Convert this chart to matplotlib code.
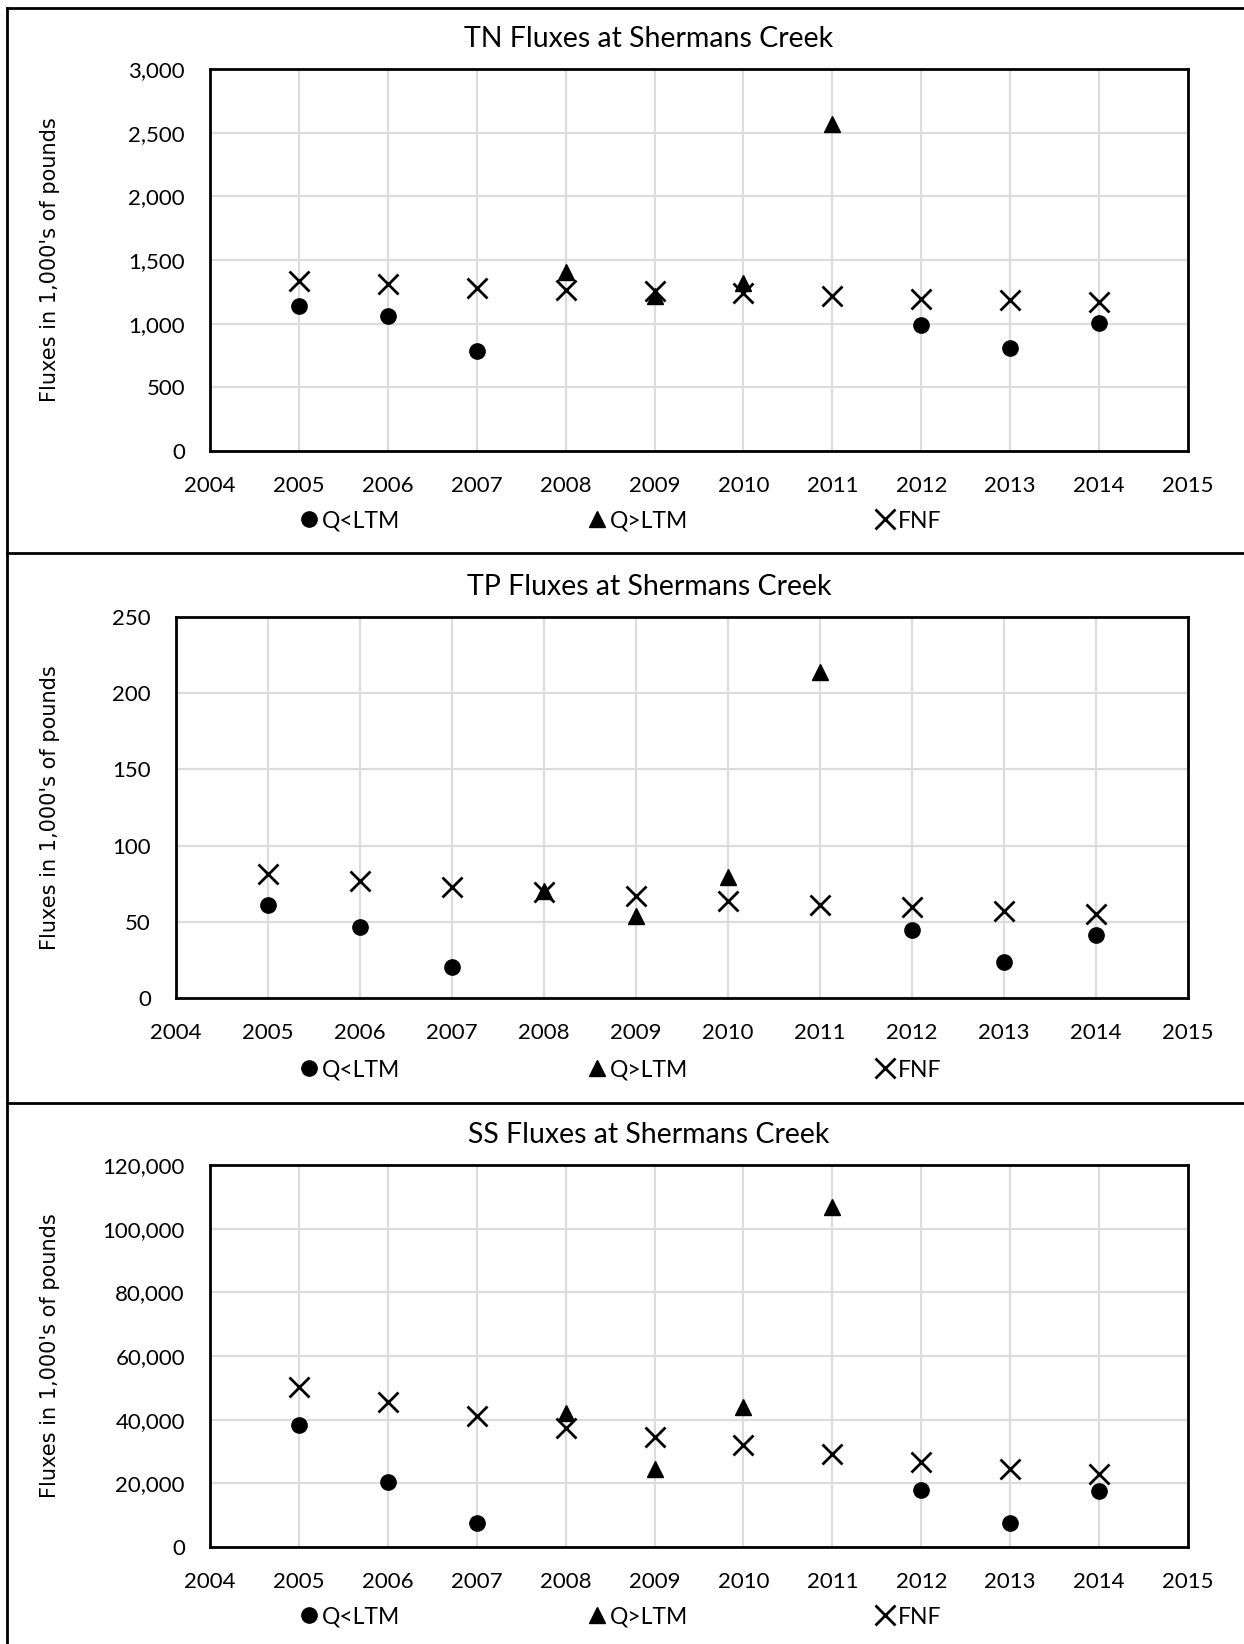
import matplotlib
matplotlib.use("Agg")
import matplotlib.pyplot as plt
from matplotlib.lines import Line2D
from matplotlib.ticker import FuncFormatter

plt.rcParams['font.family'] = ['Lato', 'DejaVu Sans']

# Data (1,000's of pounds)
years = [2005, 2006, 2007, 2008, 2009, 2010, 2011, 2012, 2013, 2014]

tn_low_years = [2005, 2006, 2007, 2012, 2013, 2014]
tn_low = [1141, 1057, 782, 992, 805, 1006]
tn_high_years = [2008, 2009, 2010, 2011]
tn_high = [1407, 1217, 1323, 2571]
tn_fnf = [1337, 1309, 1281, 1262, 1253, 1239, 1217, 1197, 1183, 1169]

tp_low_years = [2005, 2006, 2007, 2012, 2013, 2014]
tp_low = [61.3, 46.3, 20.5, 44.9, 23.7, 41.3]
tp_high_years = [2008, 2009, 2010, 2011]
tp_high = [70.5, 53.8, 79.5, 213.6]
tp_fnf = [81.2, 76.5, 73.0, 69.7, 66.7, 63.4, 61.3, 59.7, 57.3, 55.4]

ss_low_years = [2005, 2006, 2007, 2012, 2013, 2014]
ss_low = [38400, 20400, 7600, 17900, 7600, 17700]
ss_high_years = [2008, 2009, 2010, 2011]
ss_high = [42200, 24400, 43900, 106800]
ss_fnf = [50300, 45500, 41100, 37300, 34600, 31900, 29100, 26700, 24500, 22800]

W, H = 1244, 1644
fig = plt.figure(figsize=(W / 100, H / 100), dpi=100)


def box(left, top, right, bottom):
    return [left / W, 1 - bottom / H, (right - left) / W, (bottom - top) / H]


panels = [
    dict(title='TN Fluxes at Shermans Creek', pos=box(210, 69, 1188, 451),
         lo=(tn_low_years, tn_low), hi=(tn_high_years, tn_high), fnf=tn_fnf,
         ylim=3000, step=500, top=8, title_y=39, leg_y=521),
    dict(title='TP Fluxes at Shermans Creek', pos=box(176, 617, 1188, 998),
         lo=(tp_low_years, tp_low), hi=(tp_high_years, tp_high), fnf=tp_fnf,
         ylim=250, step=50, top=553, title_y=587, leg_y=1070),
    dict(title='SS Fluxes at Shermans Creek', pos=box(210, 1165, 1188, 1547),
         lo=(ss_low_years, ss_low), hi=(ss_high_years, ss_high), fnf=ss_fnf,
         ylim=120000, step=20000, top=1103, title_y=1135, leg_y=1617),
]

for p in panels:
    ax = fig.add_axes(p['pos'])
    ax.plot(p['lo'][0], p['lo'][1], 'o', color='black', markersize=11, label='Q<LTM')
    ax.plot(p['hi'][0], p['hi'][1], '^', color='black', markersize=12, label='Q>LTM')
    ax.plot(years, p['fnf'], 'x', color='black', markersize=15, mew=2, label='FNF')

    ax.set_xlim(2004, 2015)
    ax.set_xticks(range(2004, 2016))
    ax.set_ylim(0, p['ylim'])
    ax.set_yticks(range(0, p['ylim'] + 1, p['step']))
    ax.yaxis.set_major_formatter(FuncFormatter(lambda v, _: f'{int(v):,}'))
    ax.grid(True, color='#dcdcdc', linewidth=1.6)
    ax.set_axisbelow(True)
    ax.tick_params(length=0, labelsize=16)
    ax.tick_params(axis='y', pad=18)
    ax.tick_params(axis='x', pad=18)
    for s in ax.spines.values():
        s.set_linewidth(2)
        s.set_color('black')

    fig.text(649 / W, 1 - p['title_y'] / H, p['title'],
             ha='center', va='center', fontsize=20.5)
    fig.text(50 / W, p['pos'][1] + p['pos'][3] / 2, "Fluxes in 1,000's of pounds",
             rotation=90, ha='center', va='center', fontsize=15,
             family=['DejaVu Sans'])

    ax.legend(loc='center', bbox_to_anchor=(0.5, 1 - p['leg_y'] / H),
              bbox_transform=fig.transFigure, ncol=3, frameon=False,
              fontsize=16.5, handlelength=0.55, handletextpad=0.3,
              columnspacing=8.3)

    # panel border
    fig.add_artist(Line2D([7 / W, 1], [1 - p['top'] / H] * 2, color='black', lw=2))

fig.add_artist(Line2D([7 / W] * 2, [0, 1 - 8 / H], color='black', lw=2))

fig.savefig('out.png', dpi=100)
